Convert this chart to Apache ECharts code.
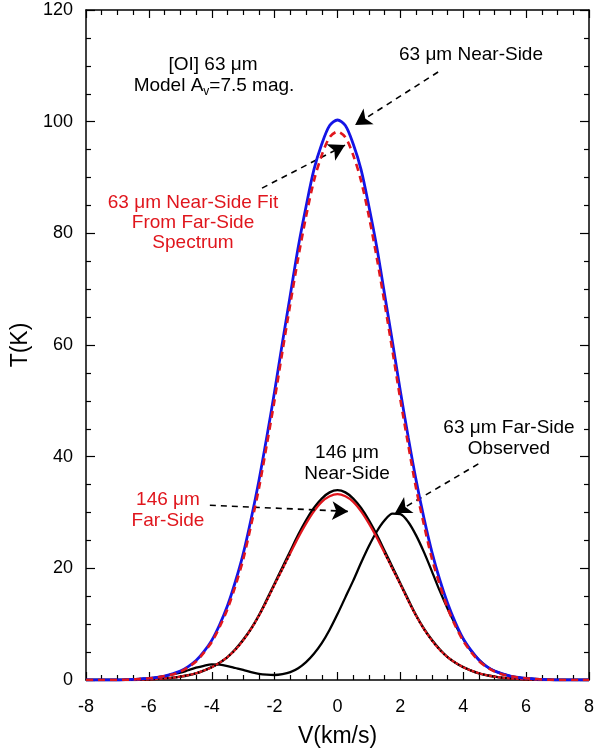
<!DOCTYPE html>
<html>
<head>
<meta charset="utf-8">
<script src="https://cdn.jsdelivr.net/npm/echarts@6/dist/echarts.min.js"></script>
<style>
  html, body { margin: 0; padding: 0; background: #fff; }
  #chart { width: 594px; height: 753px; }
</style>
</head>
<body>
<div id="chart"></div>
<script>
// velocity grid (km/s)
var velocity = [-8, -7.75, -7.5, -7.25, -7, -6.75, -6.5, -6.25, -6, -5.75, -5.5, -5.25, -5, -4.75, -4.5, -4.25,
                -4, -3.75, -3.5, -3.25, -3, -2.75, -2.5, -2.25, -2, -1.75, -1.5, -1.25, -1, -0.75, -0.5, -0.25,
                0, 0.25, 0.5, 0.75, 1, 1.25, 1.5, 1.75, 2, 2.25, 2.5, 2.75, 3, 3.25, 3.5, 3.75,
                4, 4.25, 4.5, 4.75, 5, 5.25, 5.5, 5.75, 6, 6.25, 6.5, 6.75, 7, 7.25, 7.5, 7.75, 8];

// 63 um near-side (blue)
var near63 = [0, 0, 0, 0, 0, 0.05, 0.1, 0.2, 0.3, 0.45, 0.7, 1.1, 1.6, 2.4, 3.5, 5.1,
              7.1, 9.9, 13.3, 17.6, 22.6, 28.8, 35.7, 43.5, 51.7, 60.5, 69.0, 77.5, 84.8, 91.4, 96.0, 99.3,
              100.3, 99.3, 96.0, 91.4, 84.8, 77.5, 69.0, 60.5, 51.7, 43.5, 35.8, 29.0, 23.0, 18.0, 13.8, 10.3,
              7.4, 5.3, 3.6, 2.4, 1.6, 1.1, 0.7, 0.45, 0.3, 0.2, 0.1, 0.05, 0, 0, 0, 0, 0];
// 63 um near-side fit from far-side spectrum (red dashed)
var fit63 = [0, 0, 0, 0, 0, 0.05, 0.1, 0.2, 0.3, 0.45, 0.7, 1.0, 1.5, 2.3, 3.3, 4.9,
             6.8, 9.5, 12.7, 16.8, 21.6, 27.7, 34.3, 42.1, 50.2, 58.9, 67.4, 75.6, 83.0, 89.4, 94.0, 97.2,
             98.2, 97.2, 94.0, 89.4, 83.0, 75.6, 67.4, 58.9, 50.2, 42.1, 34.3, 27.8, 21.8, 17.1, 12.9, 9.7,
             7.0, 5.0, 3.4, 2.3, 1.5, 1.0, 0.7, 0.45, 0.3, 0.2, 0.1, 0.05, 0, 0, 0, 0, 0];
// 63 um far-side observed (black)
var far63 = [0, 0, 0, 0, 0, 0.05, 0.1, 0.2, 0.3, 0.45, 0.7, 1.0, 1.3, 1.75, 2.2, 2.55,
             2.8, 2.75, 2.5, 2.15, 1.8, 1.4, 1.1, 0.95, 0.9, 1.05, 1.4, 2.1, 3.2, 4.7, 6.6, 9.0,
             11.8, 14.8, 17.8, 21.0, 24.0, 26.6, 28.6, 29.8, 29.7, 28.3, 25.9, 22.9, 19.5, 16.0, 12.8, 9.9,
             7.3, 5.2, 3.6, 2.4, 1.6, 1.1, 0.7, 0.45, 0.3, 0.2, 0.1, 0.05, 0, 0, 0, 0, 0];
// 146 um near-side (black)
var near146 = [0, 0, 0, 0, 0, 0, 0, 0.05, 0.1, 0.2, 0.3, 0.4, 0.6, 0.85, 1.2, 1.7,
               2.3, 3.1, 4.1, 5.5, 7.2, 9.2, 11.6, 14.4, 17.3, 20.2, 23.1, 26.0, 28.6, 30.8, 32.5, 33.6,
               34.0, 33.6, 32.5, 30.8, 28.6, 26.0, 23.1, 20.2, 17.3, 14.4, 11.6, 9.2, 7.2, 5.5, 4.1, 3.1,
               2.3, 1.7, 1.2, 0.85, 0.6, 0.4, 0.3, 0.2, 0.1, 0.05, 0, 0, 0, 0, 0, 0, 0];
// 146 um far-side (red)
var far146 = [0, 0, 0, 0, 0, 0, 0, 0.05, 0.1, 0.2, 0.3, 0.4, 0.6, 0.85, 1.2, 1.7,
              2.3, 3.1, 4.1, 5.4, 7.1, 9.1, 11.5, 14.2, 17.1, 19.9, 22.7, 25.5, 28.0, 30.2, 31.9, 32.9,
              33.3, 32.9, 31.9, 30.2, 28.0, 25.5, 22.7, 19.9, 17.1, 14.2, 11.5, 9.1, 7.1, 5.4, 4.1, 3.1,
              2.3, 1.7, 1.2, 0.85, 0.6, 0.4, 0.3, 0.2, 0.1, 0.05, 0, 0, 0, 0, 0, 0, 0];
// dotted overlay seen on the 146 um wings
var wings146 = [0, 0, 0, 0, 0, 0, 0, 0.05, 0.1, 0.2, 0.3, 0.4, 0.6, 0.85, 1.2, 1.7,
                2.3, 3.1, 4.1, 5.4, 7.1, 9.1, 11.5, 14.2, 17.1, 19.9, 22.7, null, null, null, null, null,
                null, null, null, null, null, null, 22.7, 19.9, 17.1, 14.2, 11.5, 9.1, 7.1, 5.4, 4.1, 3.1,
                2.3, 1.7, 1.2, 0.85, 0.6, 0.4, 0.3, 0.2, 0.1, 0.05, 0, 0, 0, 0, 0, 0, 0];

var xTicks = [-8, 8, 2];
var yTicks = [0, 120, 20];

// annotation arrows [from, to] in data units
var arrows = [
  [[3.2, 108.9], [0.56, 99.4]],
  [[-2.4, 88.1], [0.24, 95.8]],
  [[-4.06, 31.3], [0.34, 30.2]],
  [[4.48, 38.7], [1.83, 29.9]]
];

function pairs(arr) {
  return velocity.map(function (v, i) { return [v, arr[i]]; });
}

var font = 'Liberation Sans, Arial, Helvetica, sans-serif';
var chart = echarts.init(document.getElementById('chart'));

function axisX(pos, label) {
  return {
    type: 'value', position: pos, min: xTicks[0], max: xTicks[1], interval: xTicks[2],
    name: label ? 'V(km/s)' : '', nameLocation: 'middle', nameGap: 45,
    nameTextStyle: { fontSize: 23, color: '#000', fontFamily: font },
    axisLine: { show: true, onZero: false, lineStyle: { color: '#000', width: 1.5 } },
    axisTick: { show: true, inside: true, length: 8, lineStyle: { color: '#000', width: 1.2 } },
    minorTick: { show: true, splitNumber: 4, length: 5, lineStyle: { color: '#000', width: 1.2 } },
    axisLabel: { show: label, margin: 18, fontSize: 18, color: '#000', fontFamily: font },
    splitLine: { show: false }
  };
}
function axisY(pos, label) {
  return {
    type: 'value', position: pos, min: yTicks[0], max: yTicks[1], interval: yTicks[2],
    name: label ? 'T(K)' : '', nameLocation: 'middle', nameGap: 54,
    nameTextStyle: { fontSize: 23, color: '#000', fontFamily: font },
    axisLine: { show: true, onZero: false, lineStyle: { color: '#000', width: 1.5 } },
    axisTick: { show: true, inside: true, length: 9, lineStyle: { color: '#000', width: 1.2 } },
    minorTick: { show: true, splitNumber: 4, length: 5, lineStyle: { color: '#000', width: 1.2 } },
    axisLabel: { show: label, margin: 13, fontSize: 18, color: '#000', fontFamily: font },
    splitLine: { show: false }
  };
}

function lineSeries(arr, color, width, type, z) {
  return {
    type: 'line', data: pairs(arr), smooth: 0.3, showSymbol: false, symbol: 'none',
    lineStyle: { color: color, width: width, type: type }, z: z, silent: true
  };
}

var arrowSeries = lineSeries([], '#000', 1, 'solid', 10);
arrowSeries.data = [];
arrowSeries.markLine = {
  silent: true, symbol: ['none', 'arrow'], symbolSize: [14, 16],
  label: { show: false },
  lineStyle: { color: '#000', width: 1.6, type: [6, 5] },
  data: arrows.map(function (a) {
    return [{ coord: a[0] }, { coord: a[1] }];
  })
};

var option = {
  animation: false,
  grid: { left: 86, right: 5, top: 10, bottom: 73, containLabel: false, outerBoundsMode: 'none' },
  xAxis: [axisX('bottom', true), axisX('top', false)],
  yAxis: [axisY('left', true), axisY('right', false)],
  series: [
    lineSeries(far63, '#000', 2.3, 'solid', 2),
    lineSeries(near146, '#000', 2.4, 'solid', 3),
    lineSeries(far146, '#e0161d', 2.2, 'solid', 4),
    lineSeries(wings146, '#000', 2, [1.5, 3], 5),
    lineSeries(near63, '#1414e6', 2.8, 'solid', 6),
    lineSeries(fit63, '#e0161d', 2.6, [7, 5], 7),
    arrowSeries
  ],
  graphic: [
    { type: 'text', x: 213, y: 65, style: { text: '[OI] 63 μm', fill: '#000', fontSize: 19, fontFamily: font, align: 'center', verticalAlign: 'middle' } },
    { type: 'text', x: 214, y: 86, style: {
        text: 'Model A{sub|v}=7.5 mag.', fill: '#000', fontSize: 19, fontFamily: font, align: 'center', verticalAlign: 'middle',
        rich: { sub: { fontSize: 12, fontFamily: font, fill: '#000', padding: [12, 0, 0, 0] } } } },
    { type: 'text', x: 471, y: 55, style: { text: '63 μm Near-Side', fill: '#000', fontSize: 19, fontFamily: font, align: 'center', verticalAlign: 'middle' } },
    { type: 'text', x: 193, y: 223, style: { text: '63 μm Near-Side Fit\nFrom Far-Side\nSpectrum', fill: '#e0161d', fontSize: 19, fontFamily: font, align: 'center', verticalAlign: 'middle', lineHeight: 20 } },
    { type: 'text', x: 347, y: 463, style: { text: '146 μm\nNear-Side', fill: '#000', fontSize: 19, fontFamily: font, align: 'center', verticalAlign: 'middle', lineHeight: 21 } },
    { type: 'text', x: 168, y: 510, style: { text: '146 μm\nFar-Side', fill: '#e0161d', fontSize: 19, fontFamily: font, align: 'center', verticalAlign: 'middle', lineHeight: 21 } },
    { type: 'text', x: 509, y: 438, style: { text: '63 μm Far-Side\nObserved', fill: '#000', fontSize: 19, fontFamily: font, align: 'center', verticalAlign: 'middle', lineHeight: 21 } }
  ]
};
chart.setOption(option);
window.addEventListener('resize', function () { chart.resize(); });
</script>
</body>
</html>
